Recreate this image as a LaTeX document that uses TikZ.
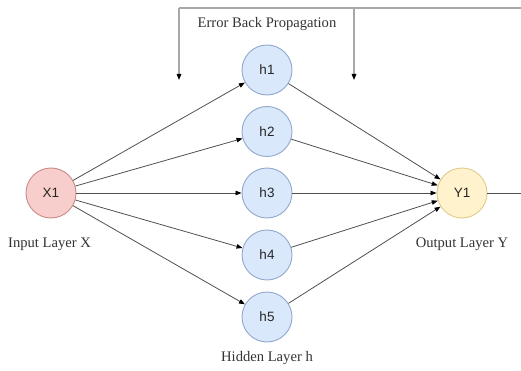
\documentclass[tikz,border=0pt]{standalone}
\usepackage{fontspec}
\setmainfont{Liberation Serif}
\newfontfamily\nodefont{Liberation Sans}
\usetikzlibrary{arrows.meta}
\definecolor{inFill}{HTML}{F8CECC}
\definecolor{inLine}{HTML}{C98A88}
\definecolor{hFill}{HTML}{DAE8FC}
\definecolor{hLine}{HTML}{8FA8CC}
\definecolor{outFill}{HTML}{FFF2CC}
\definecolor{outLine}{HTML}{E0CB8A}
\definecolor{edgeGray}{HTML}{505050}
\definecolor{fbGray}{HTML}{A8A8A8}
\tikzset{
  neuron/.style={circle, minimum size=50pt, inner sep=0pt, line width=0.9pt, font=\nodefont\fontsize{13.5}{15}\selectfont, text=black!85},
  inneuron/.style={neuron, fill=inFill, draw=inLine},
  hidneuron/.style={neuron, fill=hFill, draw=hLine},
  outneuron/.style={neuron, fill=outFill, draw=outLine},
  caption/.style={font=\fontsize{14.6}{16}\selectfont, text=black!80},
  edge/.style={draw=edgeGray, line width=0.8pt, -{Triangle[length=6pt,width=4.5pt,color=black]}},
  plainedge/.style={draw=edgeGray, line width=0.8pt},
  fb/.style={draw=fbGray, line width=1.3pt},
  fbarrow/.style={draw=fbGray, line width=1.3pt, -{Triangle[length=6pt,width=4.5pt,color=black]}}
}
\begin{document}
\begin{tikzpicture}[x=1pt,y=-1pt]
\useasboundingbox (0,0) rectangle (521,371);
\node[inneuron] (x1) at (51,193) {X1};
\node[hidneuron] (h1) at (267,70) {h1};
\node[hidneuron] (h2) at (267,131.5) {h2};
\node[hidneuron] (h3) at (267,193) {h3};
\node[hidneuron] (h4) at (267,255) {h4};
\node[hidneuron] (h5) at (267,317) {h5};
\node[outneuron] (y1) at (462,193) {Y1};
\node[caption] (lin) at (49.5,244) {Input Layer X};
\node[caption] (lout) at (462,244) {Output Layer Y};
\node[caption] (lhid) at (267,358.5) {Hidden Layer h};
\node[caption] (lerr) at (267,24) {Error Back Propagation};
\foreach \h in {h1,h2,h3,h4,h5} {
  \draw[edge] (x1) -- (\h);
  \draw[edge] (\h) -- (y1);
}
\coordinate (outend) at (521,193);
\draw[plainedge] (y1) -- (outend);
\coordinate (tr) at (521,8);
\coordinate (tl) at (179,8);
\coordinate (tm) at (354,8);
\coordinate (al) at (179,80);
\coordinate (am) at (354,80);
\draw[fb] (tr) -- (tl);
\draw[fbarrow] (tl) -- (al);
\draw[fbarrow] (tm) -- (am);
\end{tikzpicture}
\end{document}
